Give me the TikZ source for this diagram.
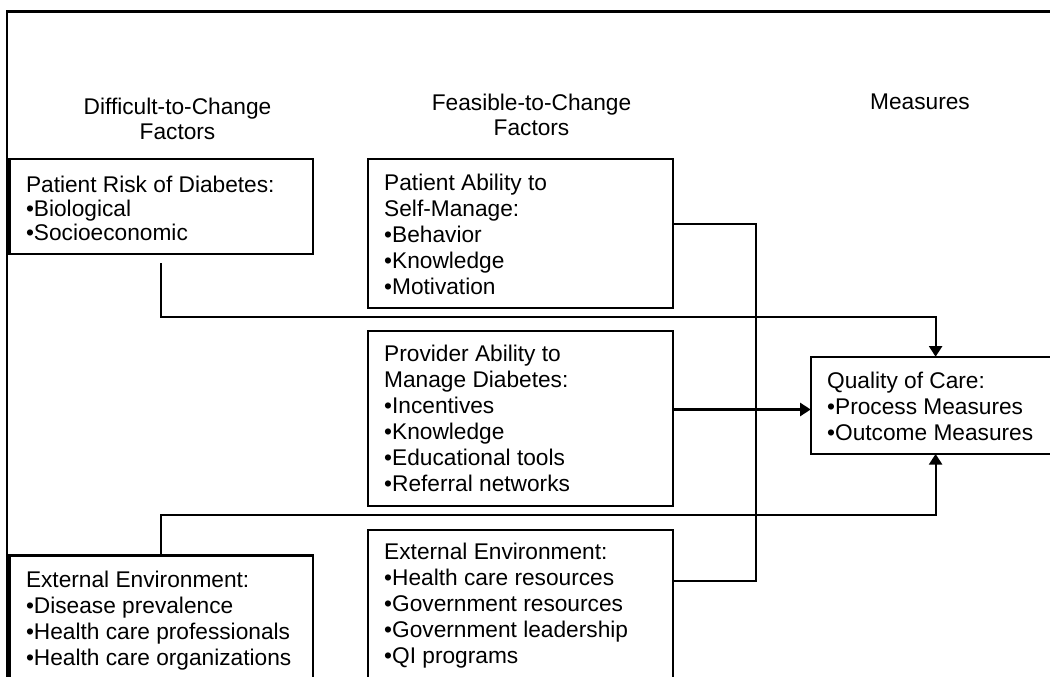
\documentclass[tikz,border=0pt]{standalone}
\usepackage{fontspec}
\setmainfont{Liberation Sans}
\usetikzlibrary{arrows.meta,calc}
\newcommand\btext[5]{\parbox[t][#2][t]{#1}{\fontsize{22.7pt}{#4}\selectfont\leftskip=16.5pt\relax\vspace*{#3}\strut #5}}
\newcommand\ttext[3]{\parbox[t]{300pt}{\centering\fontsize{22.7pt}{#2}\selectfont #3}}
\begin{document}
\begin{tikzpicture}[x=1pt,y=-1pt,
  box/.style={draw, line width=2.1pt, inner sep=0pt, outer sep=0pt, anchor=north west},
  title/.style={inner sep=0pt, anchor=base},
  link/.style={line width=2.1pt},
  arr/.style={line width=2.1pt, -{Triangle[length=10.5pt,width=13pt]}}]
\clip (0,0) rectangle (1050,677);
\draw[line width=2.6pt] (7,11.7) rectangle (1070,720);
% titles
\node[title] (t1) at (177.5,114.3) {\ttext{}{25.7pt}{Difficult-to-Change\\Factors}};
\node[title] (t2) at (531.5,110.7) {\ttext{}{25.3pt}{Feasible-to-Change\\Factors}};
\node[title] (t3) at (920,109.3) {\ttext{}{25.3pt}{Measures}};
% boxes
\node[box] (risk) at (9.5,159.3) {\btext{303.2pt}{95pt}{16.6pt}{24pt}{Patient Risk of Diabetes:\\•Biological\\•Socioeconomic}};
\node[box] (extleft) at (9.5,555.5) {\btext{303.2pt}{160pt}{14.1pt}{26pt}{External Environment:\\•Disease prevalence\\•Health care professionals\\•Health care organizations}};
\node[box] (ability) at (367.7,159) {\btext{305pt}{149.3pt}{12.8pt}{26pt}{Patient Ability to\\Self-Manage:\\•Behavior\\•Knowledge\\•Motivation}};
\node[box] (provider) at (367.7,331) {\btext{305pt}{175.3pt}{12.5pt}{26pt}{Provider Ability to\\Manage Diabetes:\\•Incentives\\•Knowledge\\•Educational tools\\•Referral networks}};
\node[box] (extmid) at (367.7,529.7) {\btext{305pt}{180pt}{11.8pt}{26pt}{External Environment:\\•Health care resources\\•Government resources\\•Government leadership\\•QI programs}};
\node[box] (quality) at (810.7,356.7) {\btext{249.8pt}{97.3pt}{13.1pt}{26pt}{Quality of Care:\\•Process Measures\\•Outcome Measures}};
% connectors
\coordinate (rs) at ($(risk.south)+(0,9)$);
\draw[arr] (rs) -- ++(0,54) -| (quality.north);
\draw[arr] (extleft.north) -- ++(0,-40.2) -| (quality.south);
\path (provider.north east) ++(0,78.5) coordinate (pa);
\draw[arr] (pa) -- (pa -| quality.west);
\path (ability.north east) ++(0,65.3) coordinate (b1);
\path (extmid.north east) ++(0,51.3) coordinate (b2);
\draw[link] (b1) -- ++(83,0) |- (b2);
\end{tikzpicture}
\end{document}
